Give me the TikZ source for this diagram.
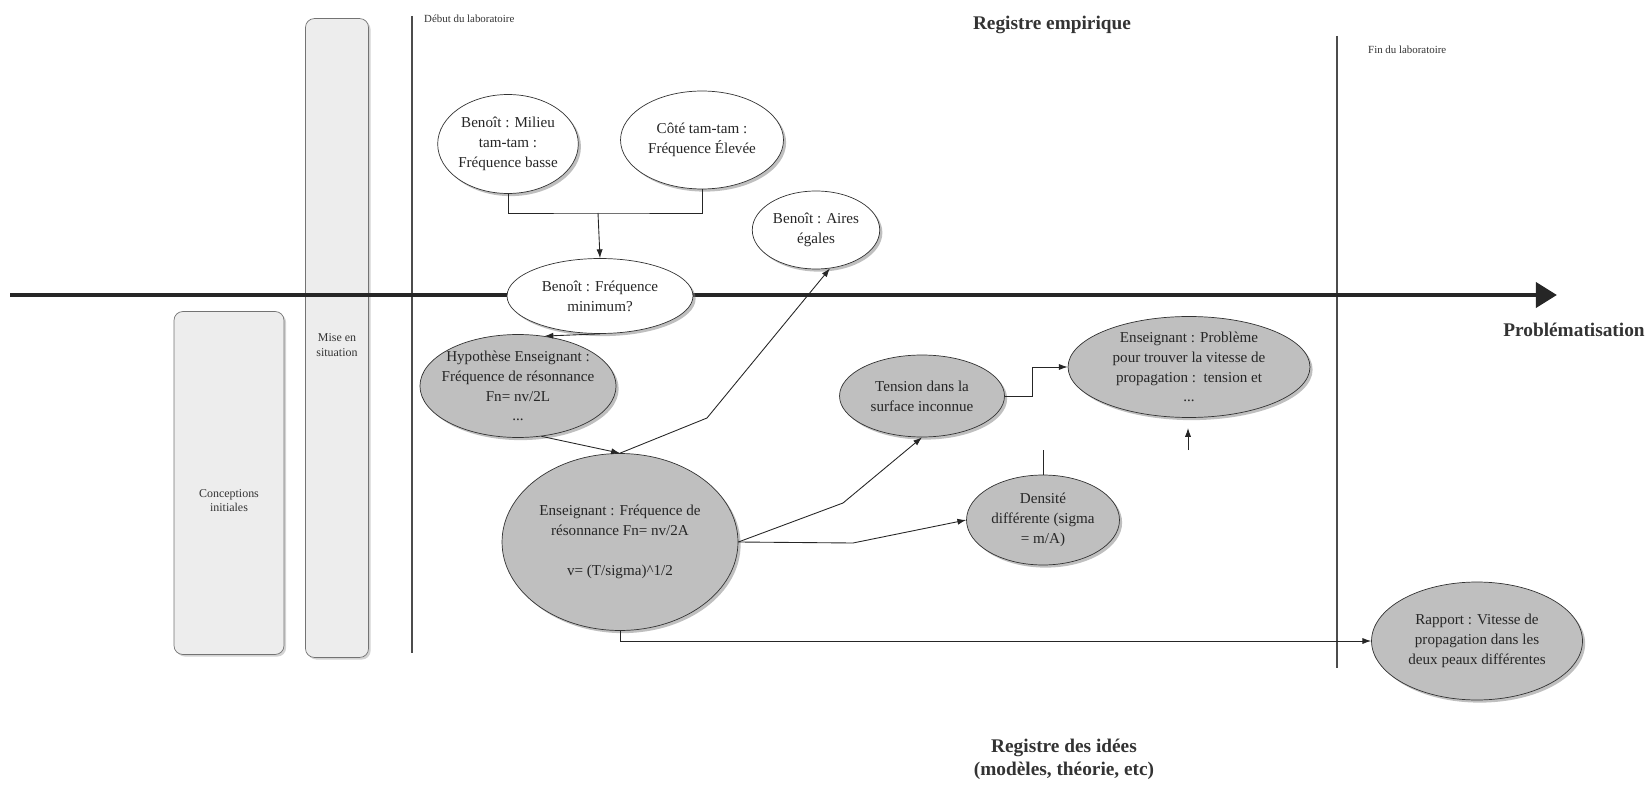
\documentclass[tikz,border=0pt]{standalone}
\usepackage{fontspec}
\setmainfont{Liberation Serif}
\usepackage{tikz}
\usetikzlibrary{shapes.geometric,arrows.meta,shadows}

\begin{document}
\begin{tikzpicture}[x=0.02cm,y=-0.02cm,
            idea/.style = {ellipse, draw=black!80, inner sep=0pt, align=center,
                        font=\fontsize{8.6}{11.3}\selectfont, text=black!85,
                        drop shadow={shadow xshift=1.5pt,shadow yshift=-1.5pt,opacity=0.5}},
            empiric/.style = {idea, fill=white},
            teacher/.style = {idea, fill=black!25},
            phase/.style = {rectangle, draw=black!55, fill=black!7, rounded corners=5pt,
                        inner sep=0pt,
                        drop shadow={shadow xshift=1.2pt,shadow yshift=-1.2pt,opacity=0.35}},
            phasetext/.style = {align=center, text=black!80, font=\fontsize{6.8}{8.3}\selectfont},
            register/.style = {font=\fontsize{11}{13}\selectfont\bfseries, text=black!80, align=center},
            small/.style = {font=\fontsize{6.2}{7.5}\selectfont, text=black!80},
            frontier/.style = {draw=black!70, line width=0.9pt},
            link/.style = {draw=black!85, line width=0.5pt},
            flow/.style = {link, -{Latex[length=5pt,width=3.5pt]}}]
            \useasboundingbox (0,0) rectangle (1652,793);
            % Phases
            \node[phase, minimum width=2.2cm, minimum height=6.86cm,
                  label={[phasetext, yshift=-10pt]center:{Conceptions\\initiales}}] (concep) at (229,483) {};
            \node[phase, minimum width=1.26cm, minimum height=12.78cm,
                  label={[phasetext, yshift=-4pt]center:{Mise en\\situation}}] (mise) at (337,338) {};
            % Laboratory limits
            \coordinate (debuttop) at (412,16);
            \coordinate (debutbot) at (412,653);
            \coordinate (fintop) at (1337,36);
            \coordinate (finbot) at (1337,668);
            \draw[frontier] (debuttop) -- (debutbot);
            \draw[frontier] (fintop) -- (finbot);
            \node[small, anchor=west] (debut) at (418,19) {Début du laboratoire};
            \node[small, anchor=west] (fin) at (1362,50) {Fin du laboratoire};
            % Problematisation axis
            \coordinate (axisstart) at (10,295);
            \coordinate (axisend) at (1557,295);
            \draw[black!85, line width=2.8pt, -{Triangle[length=12pt,width=14pt]}] (axisstart) -- (axisend);
            \node[register] (probl) at (1574,330) {Problématisation};
            \node[register] (empir) at (1052,25) {Registre empirique};
            \node[register] (idees) at (1064,759) {Registre des idées\\(modèles, théorie, etc)};
            % Empirical ideas
            \node[empiric, minimum width=2.8cm, minimum height=1.98cm] (milieu) at (508,144) {Benoît : Milieu\\tam-tam :\\Fréquence basse};
            \node[empiric, minimum width=3.26cm, minimum height=1.96cm] (cote) at (702,140) {Côté tam-tam :\\Fréquence Élevée};
            \node[empiric, minimum width=3.72cm, minimum height=1.5cm] (freqmin) at (600,296) {Benoît : Fréquence\\minimum?};
            \node[empiric, minimum width=2.55cm, minimum height=1.56cm] (aires) at (816,230) {Benoît : Aires\\égales};
            % Teacher ideas
            \node[teacher, inner xsep=-4pt, inner ysep=-2pt, minimum width=3.92cm, minimum height=2.06cm] (hypo) at (518,386) {Hypothèse Enseignant :\\Fréquence de résonnance\\Fn= nv/2L\\...};
            \node[teacher, minimum width=4.72cm, minimum height=3.54cm] (enseig) at (620,542) {Enseignant : Fréquence de\\résonnance Fn= nv/2A\\[11.3pt]v= (T/sigma)\textasciicircum 1/2};
            \node[teacher, minimum width=3.3cm, minimum height=1.64cm] (tension) at (922,396) {Tension dans la\\surface inconnue};
            \node[teacher, minimum width=4.84cm, minimum height=2.02cm] (probleme) at (1189,367) {Enseignant : Problème\\pour trouver la vitesse de\\propagation :\ \ tension et\\...};
            \node[teacher, minimum width=3.06cm, minimum height=1.8cm] (densite) at (1043,520) {Densité\\différente (sigma\\= m/A)};
            \node[teacher, minimum width=4.22cm, minimum height=2.36cm] (rapport) at (1477,641) {Rapport : Vitesse de\\propagation dans les\\deux peaux différentes};
            % Connectors
            \coordinate (join) at (598,213);
            \coordinate (bendA) at (707,418);
            \coordinate (bendB) at (843,503);
            \coordinate (bendC) at (853,543);
            \coordinate (probtail) at (1188,450);
            \coordinate (probhead) at (1188,428);
            \coordinate (denstail) at (1043,450);
            \draw[link] (milieu.south) |- (join) -| (cote.south);
            \draw[flow] (join) -- (freqmin.north);
            \draw[flow] (freqmin.south) -- (hypo.62);
            \draw[flow] (hypo.-65) -- (enseig.north);
            \draw[flow] (enseig.north) -- (bendA) -- (aires.-70);
            \draw[flow] (enseig.east) -- (bendB) -- (tension.south);
            \draw[flow] (enseig.east) -- (bendC) -- (densite.west);
            \draw[flow] (enseig.south) |- (rapport.west);
            \draw[flow] (tension.east) -- ++(28,0) |- (probleme.west);
            \draw[flow] (probtail) -- (probhead);
            \draw[link] (densite.north) -- (denstail);
\end{tikzpicture}
\end{document}
